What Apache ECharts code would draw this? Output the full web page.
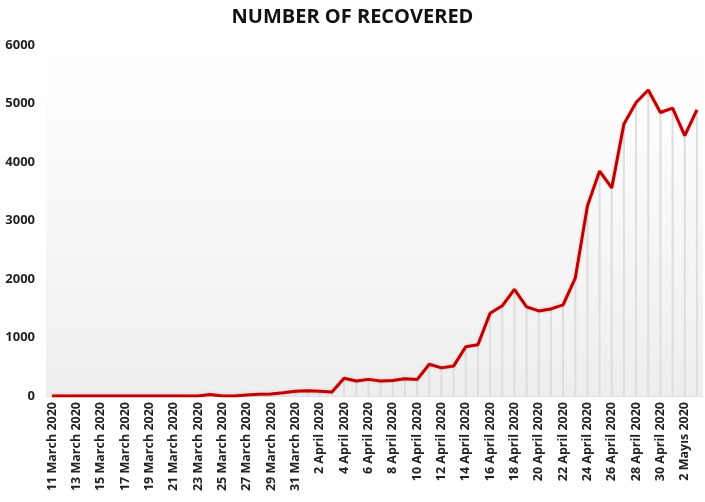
<!DOCTYPE html>
<html>
<head>
<meta charset="utf-8">
<script src="https://cdn.jsdelivr.net/npm/echarts@6/dist/echarts.min.js"></script>
<style>
html,body{margin:0;padding:0;background:#fff;}
#chart{width:705px;height:502px;}
</style>
</head>
<body>
<div id="chart"></div>
<script>
const titleText = "NUMBER OF RECOVERED";
const categories = [
  "11 March 2020","12 March 2020","13 March 2020","14 March 2020","15 March 2020","16 March 2020",
  "17 March 2020","18 March 2020","19 March 2020","20 March 2020","21 March 2020","22 March 2020",
  "23 March 2020","24 March 2020","25 March 2020","26 March 2020","27 March 2020","28 March 2020",
  "29 March 2020","30 March 2020","31 March 2020",
  "1 April 2020","2 April 2020","3 April 2020","4 April 2020","5 April 2020","6 April 2020",
  "7 April 2020","8 April 2020","9 April 2020","10 April 2020","11 April 2020","12 April 2020",
  "13 April 2020","14 April 2020","15 April 2020","16 April 2020","17 April 2020","18 April 2020",
  "19 April 2020","20 April 2020","21 April 2020","22 April 2020","23 April 2020","24 April 2020",
  "25 April 2020","26 April 2020","27 April 2020","28 April 2020","29 April 2020","30 April 2020",
  "1 Mayıs 2020","2 Mayıs 2020","3 Mayıs 2020"
];
const recovered = [
  0,0,0,0,0,0,0,0,0,0,0,0,
  0,26,0,0,16,28,35,57,81,
  90,82,69,302,256,284,256,264,296,281,542,481,511,842,875,1415,1542,1822,1523,1454,1488,1559,2014,
  3246,3845,3558,4651,5018,5231,4846,
  4922,4451,4892
];
const yMin = 0, yMax = 6000, yStep = 1000;

const chart = echarts.init(document.getElementById('chart'));
chart.setOption({
  animation: false,
  backgroundColor: '#ffffff',
  title: {
    text: titleText,
    left: 'center',
    top: 2,
    textStyle: {fontFamily: 'Open Sans', fontWeight: 'bold', fontSize: 20, color: '#111'}
  },
  grid: {
    left: 46, right: 2, top: 45, bottom: 106,
    show: true,
    borderWidth: 0,
    backgroundColor: new echarts.graphic.LinearGradient(0, 0, 0, 1, [
      {offset: 0, color: '#ffffff'},
      {offset: 0.25, color: '#fcfcfc'},
      {offset: 1, color: '#eeeeee'}
    ])
  },
  xAxis: {
    type: 'category',
    data: categories,
    boundaryGap: true,
    axisLine: {show: true, lineStyle: {color: '#e2e2e2', width: 1}},
    axisTick: {show: false},
    axisLabel: {
      interval: 1,
      rotate: 90,
      margin: 6,
      fontFamily: 'Open Sans',
      fontWeight: 'bold',
      fontSize: 12.5,
      color: '#222'
    },
    splitLine: {show: false}
  },
  yAxis: {
    type: 'value',
    min: yMin, max: yMax, interval: yStep,
    axisLine: {show: false},
    axisTick: {show: false},
    splitLine: {show: false},
    axisLabel: {
      margin: 11,
      fontFamily: 'Open Sans',
      fontWeight: 'bold',
      fontSize: 13,
      color: '#222',
      formatter: function (v) { return String(v); }
    }
  },
  series: [
    {
      type: 'bar',
      data: recovered,
      barWidth: 2,
      itemStyle: {color: '#dedede'},
      silent: true,
      z: 1
    },
    {
      type: 'line',
      data: recovered,
      symbol: 'none',
      lineStyle: {color: '#c00000', width: 3, shadowColor: 'rgba(192,0,0,0.25)', shadowBlur: 3},
      z: 3
    }
  ]
});
</script>
</body>
</html>
